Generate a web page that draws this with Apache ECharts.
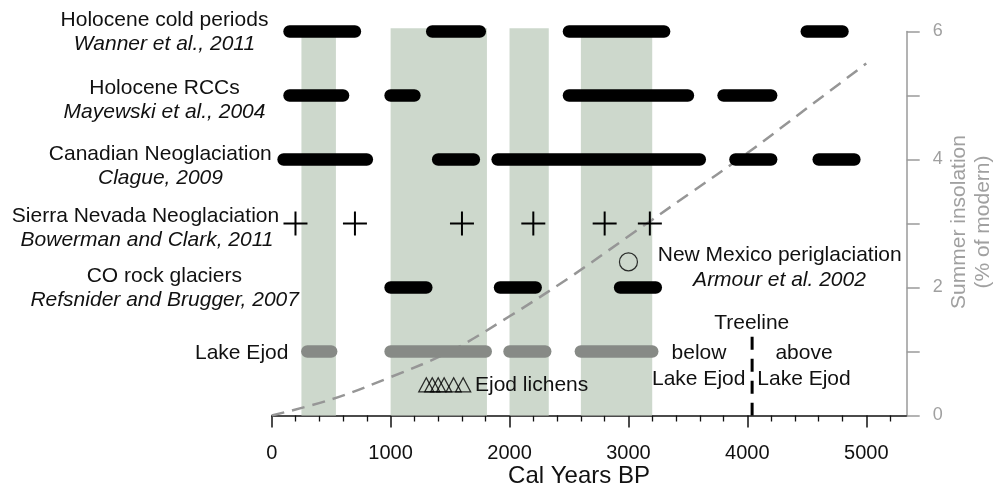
<!DOCTYPE html>
<html>
<head>
<meta charset="utf-8">
<script src="https://cdn.jsdelivr.net/npm/echarts@6/dist/echarts.min.js"></script>
<style>
html, body { margin: 0; padding: 0; background: #fff; }
#chart { width: 995px; height: 491px; }
</style>
</head>
<body>
<div id="chart"></div>
<script>
const FONT = '"Liberation Sans", Arial, Helvetica, sans-serif';
const INK = '#111';
const AXIS_GREY = '#9a9a9a';

// Ages in cal years BP
const shadedPeriods = [[250, 540], [1000, 1810], [2000, 2330], [2600, 3200]];
const shadedTop = 6.05;
const coldPeriodsWanner = [[150, 700], [1350, 1750], [2500, 3300], [4500, 4800]];
const rccMayewski = [[150, 600], [1000, 1200], [2500, 3500], [3800, 4200]];
const neoglaciationClague = [[100, 800], [1400, 1700], [1900, 3600], [3900, 4200], [4600, 4900]];
const sierraNevadaAdvances = [200, 700, 1600, 2200, 2800, 3180];
const rockGlaciersCO = [[1000, 1300], [1920, 2220], [2930, 3230]];
const lakeEjodCold = [[300, 500], [1000, 1800], [2000, 2300], [2600, 3200]];
const newMexicoPeriglacial = [[3000, 2.4]];
const ejodLichenAges = [1300, 1350, 1400, 1450, 1530, 1610];
const ejodLichenLevel = 0.48;
const treelineAge = 4040;
const treelineTop = 1.23;

// Record rows, placed on the right-hand scale
const rowWanner = 6;
const rowMayewski = 5;
const rowClague = 4;
const rowSierra = 3;
const rowRockGlaciers = 2;
const rowLakeEjod = 1;

// Summer insolation (% of modern)
const insolationYears = [0, 500, 1000, 1500, 2000, 2500, 3000, 3500, 4000, 4500, 5000];
const insolationValues = [0, 0.25, 0.6, 1.0, 1.55, 2.15, 2.8, 3.45, 4.1, 4.8, 5.5];

// Axis ticks
const xMajorTicks = [0, 1000, 2000, 3000, 4000, 5000];
const xMinorTicks = [200, 400, 600, 800, 1200, 1400, 1600, 1800, 2200, 2400, 2600, 2800,
                     3200, 3400, 3600, 3800, 4200, 4400, 4600, 4800, 5200];
const yTicks = [0, 1, 2, 3, 4, 5, 6];
const yTickLabels = [0, 2, 4, 6];

function intervalsOnRow(list, row) {
  return list.map(function (p) { return [p[0], p[1], row]; });
}

function capsuleRenderer(color) {
  return function (params, api) {
    const a = api.coord([api.value(0), api.value(2)]);
    const b = api.coord([api.value(1), api.value(2)]);
    return {
      type: 'line',
      shape: { x1: a[0], y1: a[1], x2: b[0], y2: b[1] },
      style: { stroke: color, lineWidth: 12.5, lineCap: 'round' }
    };
  };
}

function capsuleSeries(name, list, row, color) {
  return {
    name: name,
    type: 'custom',
    clip: false,
    z: 4,
    renderItem: capsuleRenderer(color),
    encode: { x: [0, 1], y: 2 },
    data: intervalsOnRow(list, row)
  };
}

function label(text, x, y, opts) {
  opts = opts || {};
  return {
    type: 'text',
    x: x,
    y: y,
    rotation: opts.rotation || 0,
    z: 20,
    style: {
      text: text,
      fill: opts.color || INK,
      fontSize: opts.size || 21,
      fontFamily: FONT,
      fontStyle: opts.italic ? 'italic' : 'normal',
      align: opts.align || 'center',
      verticalAlign: 'middle',
      lineHeight: opts.lineHeight || undefined
    }
  };
}

function plainNumber(v) { return String(v); }

const chart = echarts.init(document.getElementById('chart'), null, { renderer: 'canvas' });

const option = {
  animation: false,
  backgroundColor: '#fff',
  grid: { left: 271.7, right: 88.3, top: 31.5, bottom: 75.5 },
  xAxis: [
    {
      type: 'value',
      position: 'bottom',
      min: 0,
      max: 5340,
      axisLine: { show: true, onZero: false, lineStyle: { color: INK, width: 1.5 } },
      axisTick: { show: true, inside: false, length: 12, customValues: xMajorTicks,
                  lineStyle: { color: INK, width: 1.5 } },
      axisLabel: { show: true, customValues: xMajorTicks, margin: 28, formatter: plainNumber,
                   color: INK, fontSize: 20, fontFamily: FONT },
      splitLine: { show: false }
    },
    {
      type: 'value',
      position: 'bottom',
      min: 0,
      max: 5340,
      axisLine: { show: false, onZero: false },
      axisTick: { show: true, inside: false, length: 6, customValues: xMinorTicks,
                  lineStyle: { color: INK, width: 1.3 } },
      axisLabel: { show: false },
      splitLine: { show: false }
    }
  ],
  yAxis: [
    {
      type: 'value',
      position: 'right',
      min: 0,
      max: 6,
      interval: 1,
      axisLine: { show: true, onZero: false, lineStyle: { color: AXIS_GREY, width: 1.5 } },
      axisTick: { show: true, inside: false, length: 13, customValues: yTicks,
                  lineStyle: { color: AXIS_GREY, width: 1.5 } },
      axisLabel: { show: true, customValues: yTickLabels, margin: 26, formatter: plainNumber,
                   color: '#a0a0a0', fontSize: 18, fontFamily: FONT },
      splitLine: { show: false }
    }
  ],
  series: [
    {
      name: 'Cold intervals',
      type: 'custom',
      clip: false,
      z: 1,
      encode: { x: [0, 1], y: 2 },
      data: shadedPeriods.map(function (p) { return [p[0], p[1], shadedTop]; }),
      renderItem: function (params, api) {
        const tl = api.coord([api.value(0), api.value(2)]);
        const br = api.coord([api.value(1), 0]);
        return {
          type: 'rect',
          shape: { x: tl[0], y: tl[1], width: br[0] - tl[0], height: br[1] - tl[1] },
          style: { fill: '#cdd8cc' }
        };
      }
    },
    {
      name: 'Summer insolation',
      type: 'line',
      z: 2,
      smooth: 0.35,
      symbol: 'none',
      lineStyle: { color: '#969696', width: 2.5, type: [13, 8] },
      data: insolationYears.map(function (t, i) { return [t, insolationValues[i]]; })
    },
    capsuleSeries('Holocene cold periods', coldPeriodsWanner, rowWanner, '#000'),
    capsuleSeries('Holocene RCCs', rccMayewski, rowMayewski, '#000'),
    capsuleSeries('Canadian Neoglaciation', neoglaciationClague, rowClague, '#000'),
    capsuleSeries('CO rock glaciers', rockGlaciersCO, rowRockGlaciers, '#000'),
    capsuleSeries('Lake Ejod', lakeEjodCold, rowLakeEjod, '#878a86'),
    {
      name: 'Sierra Nevada Neoglaciation',
      type: 'custom',
      clip: false,
      z: 5,
      encode: { x: 0, y: 1 },
      data: sierraNevadaAdvances.map(function (t) { return [t, rowSierra]; }),
      renderItem: function (params, api) {
        const c = api.coord([api.value(0), api.value(1)]);
        const h = 12;
        const st = { stroke: '#000', lineWidth: 2 };
        return {
          type: 'group',
          children: [
            { type: 'line', shape: { x1: c[0] - h, y1: c[1], x2: c[0] + h, y2: c[1] }, style: st },
            { type: 'line', shape: { x1: c[0], y1: c[1] - h, x2: c[0], y2: c[1] + h }, style: st }
          ]
        };
      }
    },
    {
      name: 'New Mexico periglaciation',
      type: 'scatter',
      z: 5,
      symbol: 'circle',
      symbolSize: 18,
      itemStyle: { color: 'rgba(0,0,0,0)', borderColor: '#000', borderWidth: 1.2 },
      data: newMexicoPeriglacial
    },
    {
      name: 'Ejod lichens',
      type: 'scatter',
      z: 5,
      symbol: 'triangle',
      symbolSize: [15, 14],
      itemStyle: { color: 'rgba(0,0,0,0)', borderColor: '#000', borderWidth: 1.3 },
      data: ejodLichenAges.map(function (t) { return [t, ejodLichenLevel]; })
    },
    {
      name: 'Treeline',
      type: 'line',
      z: 5,
      symbol: 'none',
      lineStyle: { color: '#000', width: 3, type: [13, 9] },
      data: [[treelineAge, treelineTop], [treelineAge, 0]]
    }
  ],
  graphic: [
    label('Holocene cold periods', 164.5, 20.5),
    label('Wanner et al., 2011', 164.5, 44, { italic: true }),
    label('Holocene RCCs', 164.5, 88.5),
    label('Mayewski et al., 2004', 164.5, 112.5, { italic: true }),
    label('Canadian Neoglaciation', 160.3, 154.5),
    label('Clague, 2009', 160.5, 178.5, { italic: true }),
    label('Sierra Nevada Neoglaciation', 145.5, 216),
    label('Bowerman and Clark, 2011', 147, 240, { italic: true }),
    label('CO rock glaciers', 164.3, 276),
    label('Refsnider and Brugger, 2007', 164.7, 300, { italic: true }),
    label('Lake Ejod', 241.7, 353),
    label('New Mexico periglaciation', 779.7, 255),
    label('Armour et al. 2002', 779.5, 280, { italic: true }),
    label('Treeline', 751.7, 323),
    label('below', 699, 353),
    label('Lake Ejod', 698.7, 379),
    label('above', 804, 353),
    label('Lake Ejod', 804, 379),
    label('Ejod lichens', 475, 385, { align: 'left' }),
    label('Cal Years BP', 579, 476, { size: 24 }),
    label('Summer insolation\n(% of modern)', 971, 222,
          { rotation: Math.PI / 2, color: '#a0a0a0', size: 21, lineHeight: 24 })
  ]
};

chart.setOption(option);
</script>
</body>
</html>
